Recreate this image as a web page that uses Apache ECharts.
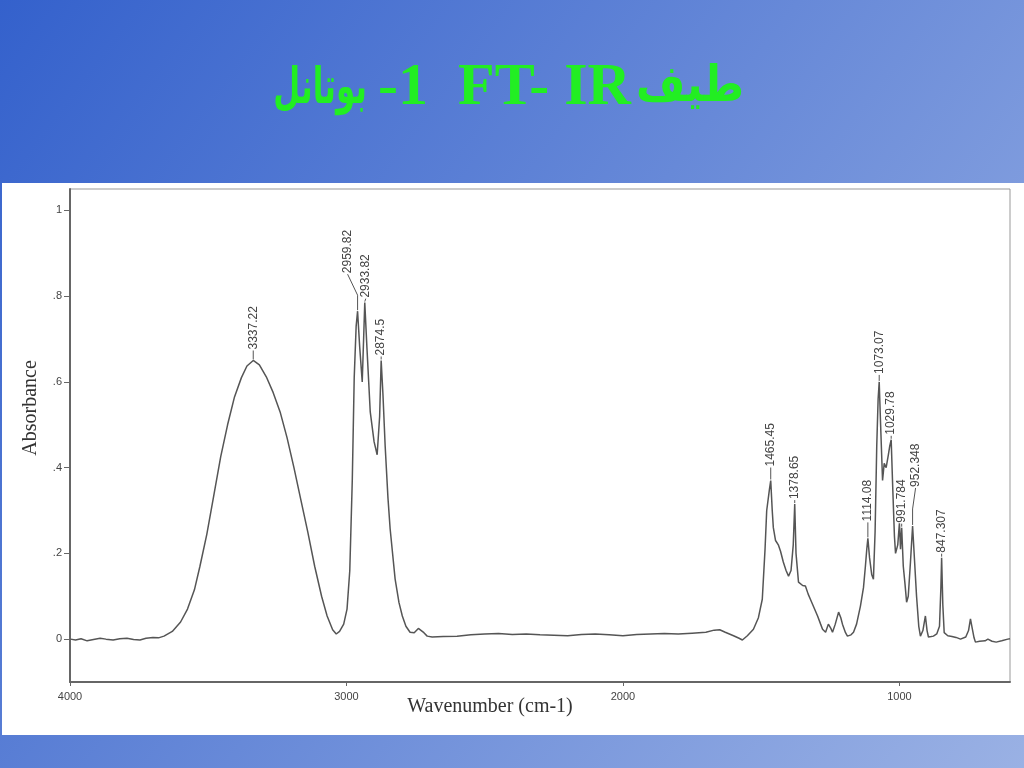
<!DOCTYPE html>
<html>
<head>
<meta charset="utf-8">
<script src="https://cdn.jsdelivr.net/npm/echarts@6/dist/echarts.min.js"></script>
<style>
html,body{margin:0;padding:0;}
#chart{width:1024px;height:768px;}
</style>
</head>
<body>
<div id="chart"></div>
<script>
// ---- Data ----
const wavenumbers = [
  3998,3980,3960,3938,3915,3891,3870,3844,3820,3794,3770,3747,3725,3700,3680,3660,
  3630,3600,3575,3550,3530,3505,3480,3455,3430,3405,3380,3360,3337.22,3315,3290,3265,
  3240,3215,3190,3165,3140,3115,3090,3070,3050,3037,3025,3010,2998,2988,2979,2972,
  2965,2959.82,2952,2943,2938,2933.82,2926,2914,2900,2889,2880,2874.5,2868,2860,2850,
  2842,2824,2810,2798,2785,2770,2755,2740,2733,2720,2708,2690,2650,2600,2550,2500,
  2450,2400,2350,2300,2250,2200,2150,2100,2050,2000,1950,1900,1850,1800,1750,1700,
  1670,1650,1630,1600,1580,1568,1550,1528,1510,1496,1486,1480,1470,1465.45,1460,1456,
  1448,1438,1430,1420,1410,1401,1392,1384,1378.65,1374,1365,1350,1340,1330,1322,1310,
  1296,1285,1278,1267,1257,1248,1242,1232,1220,1212,1206,1195,1188,1175,1166,1155,
  1141,1130,1123,1118,1114.08,1108,1100,1094,1088,1082,1077,1073.07,1068,1061,1055,
  1048,1040,1035,1029.78,1024,1018,1014,1006,1000,996,991.784,986,980,974,968,960,
  952.348,945,938,930,924,915,906,900,895,885,877,865,855,850,847.307,843,838,825,
  810,795,779,760,750,743,738,730,725,710,690,680,665,650,630,608,600
];
const absorbance = [
  0.000,-0.002,0.001,-0.004,-0.001,0.002,0.000,-0.002,0.001,0.002,-0.001,-0.002,0.002,0.004,0.003,0.007,
  0.018,0.040,0.070,0.115,0.170,0.245,0.335,0.425,0.500,0.565,0.610,0.637,0.650,0.640,0.612,0.575,
  0.530,0.470,0.400,0.325,0.250,0.170,0.100,0.054,0.022,0.012,0.018,0.035,0.070,0.160,0.370,0.610,
  0.730,0.765,0.680,0.600,0.700,0.785,0.680,0.530,0.460,0.430,0.520,0.650,0.570,0.450,0.330,
  0.257,0.140,0.085,0.054,0.030,0.016,0.015,0.025,0.028,0.015,0.007,0.005,0.006,0.007,0.010,0.012,
  0.013,0.011,0.012,0.010,0.009,0.008,0.011,0.012,0.010,0.008,0.011,0.012,0.013,0.012,0.014,0.016,
  0.021,0.022,0.016,0.008,0.002,-0.002,0.008,0.023,0.050,0.093,0.210,0.300,0.350,0.370,0.300,0.260,
  0.230,0.220,0.205,0.180,0.160,0.147,0.160,0.220,0.315,0.200,0.133,0.125,0.124,0.105,0.093,0.075,
  0.054,0.035,0.023,0.016,0.035,0.025,0.016,0.035,0.063,0.050,0.035,0.015,0.007,0.010,0.016,0.035,
  0.077,0.120,0.170,0.210,0.235,0.190,0.150,0.140,0.250,0.450,0.560,0.600,0.500,0.370,0.410,
  0.400,0.430,0.450,0.465,0.350,0.240,0.200,0.220,0.270,0.210,0.260,0.170,0.130,0.086,0.100,0.180,
  0.264,0.180,0.100,0.030,0.007,0.020,0.054,0.020,0.005,0.006,0.007,0.012,0.030,0.120,0.190,0.080,0.015,0.008,
  0.006,0.004,0.000,0.005,0.020,0.047,0.030,0.003,-0.007,-0.005,-0.004,0.000,-0.005,-0.007,-0.004,0.000,0.001
];
const peakLabels = ['3337.22','2959.82','2933.82','2874.5','1465.45','1378.65','1114.08','1073.07','1029.78','991.784','952.348','847.307'];
const peakWavenumbers = [3337.22,2959.82,2933.82,2874.5,1465.45,1378.65,1114.08,1073.07,1029.78,991.784,952.348,847.307];
const peakAbsorbance = [0.650,0.765,0.785,0.650,0.370,0.315,0.235,0.600,0.465,0.260,0.264,0.190];
const xTicks = [4000,3000,2000,1000];
const yTicks = [0,0.2,0.4,0.6,0.8,1];

// label placement tweaks (style only)
const labelStyle = {
  '2959.82':{dx:-10,dy:-36,bend:[0,-12]},
  '2933.82':{dx:1,dy:-3},
  '2874.5':{dx:0,dy:-3},
  '1465.45':{dx:0,dy:-12},
  '1378.65':{dx:0,dy:-3},
  '1114.08':{dx:0,dy:-15},
  '1073.07':{dx:0,dy:-6},
  '1029.78':{dx:0,dy:-3},
  '991.784':{dx:0,dy:-3},
  '952.348':{dx:3,dy:-37,bend:[0,-4]},
  '847.307':{dx:0,dy:-3}
};

const curve = wavenumbers.map((w,i)=>[w,absorbance[i]]);
const peaks = peakWavenumbers.map((w,i)=>[w,peakAbsorbance[i],peakLabels[i]]);

const chart = echarts.init(document.getElementById('chart'), null, {renderer:'canvas'});
const labelFont = '12px "Liberation Sans", Arial, sans-serif';
const titleColor = '#22ee22';

chart.setOption({
  animation:false,
  backgroundColor:{type:'linear',x:0,y:0,x2:1,y2:1,colorStops:[{offset:0,color:'#3461cc'},{offset:1,color:'#9ab1e4'}]},
  graphic:[
    {type:'rect',z:-10,shape:{x:2,y:183,width:1022,height:552},style:{fill:'#ffffff'}},
    {type:'text',x:367,y:90,scaleX:0.62,style:{text:'بوتانل',font:'bold 50px "DejaVu Sans", "Noto Sans", serif',fill:titleColor,align:'right',verticalAlign:'middle'}},
    {type:'text',x:378,y:88,style:{text:'-1',font:'bold 60px "Liberation Serif", "Times New Roman", serif',fill:titleColor,align:'left',verticalAlign:'middle'}},
    {type:'text',x:458,y:88,style:{text:'FT- IR',font:'bold 60px "Liberation Serif", "Times New Roman", serif',fill:titleColor,align:'left',verticalAlign:'middle'}},
    {type:'text',x:744,y:88,scaleX:0.85,style:{text:'طيف',font:'bold 50px "DejaVu Sans", "Noto Sans", serif',fill:titleColor,align:'right',verticalAlign:'middle'}},
    {type:'text',x:490,y:707,style:{text:'Wavenumber (cm-1)',font:'20px "Liberation Serif", "Times New Roman", serif',fill:'#333',align:'center',verticalAlign:'middle'}},
    {type:'text',x:31,y:408,rotation:Math.PI/2,style:{text:'Absorbance',font:'20px "Liberation Serif", "Times New Roman", serif',fill:'#333',align:'center',verticalAlign:'middle'}}
  ],
  grid:{left:70,right:14,top:189,bottom:86,show:true,borderColor:'#999',borderWidth:1,backgroundColor:'#fff'},
  xAxis:{
    type:'value',min:600,max:4000,inverse:true,
    axisLine:{show:true,onZero:false,lineStyle:{color:'#666',width:2}},
    axisTick:{show:true,customValues:xTicks,length:4,lineStyle:{color:'#666'}},
    axisLabel:{customValues:xTicks,margin:9,color:'#444',fontSize:11,fontFamily:'"Liberation Sans", Arial, sans-serif',
      formatter:v=>String(Math.round(v))},
    splitLine:{show:false}
  },
  yAxis:{
    type:'value',min:-0.1,max:1.05,
    axisLine:{show:true,onZero:false,lineStyle:{color:'#666',width:2}},
    axisTick:{show:true,customValues:yTicks,length:6,lineStyle:{color:'#666'}},
    axisLabel:{customValues:yTicks,margin:8,color:'#444',fontSize:11,fontFamily:'"Liberation Sans", Arial, sans-serif',
      formatter:v=>{ if(Math.abs(v)<1e-9) return '0'; if(Math.abs(v-1)<1e-9) return '1'; return '.'+Math.round(v*10); }},
    splitLine:{show:false}
  },
  series:[
    {type:'line',data:curve,showSymbol:false,symbol:'none',lineStyle:{color:'#555',width:1.5},z:3},
    {type:'custom',data:peaks,clip:false,z:4,
      renderItem:(params,api)=>{
        const p = api.coord([api.value(0),api.value(1)]);
        const lab = peakLabels[params.dataIndex];
        const st = labelStyle[lab] || {dx:0,dy:-9};
        const tx = p[0]+st.dx, ty = p[1]+st.dy;
        const pts = [[p[0],p[1]-1]];
        if(st.bend){ pts.push([p[0]+st.bend[0],ty+(st.dy<-20?20:0)]); }
        pts.push([tx,ty-1]);
        return {type:'group',children:[
          {type:'polyline',shape:{points:pts},style:{stroke:'#555',lineWidth:1,fill:null}},
          {type:'text',x:tx,y:ty-2,rotation:Math.PI/2,style:{text:lab,font:labelFont,fill:'#444',align:'left',verticalAlign:'middle'}}
        ]};
      }
    }
  ]
});
</script>
</body>
</html>
